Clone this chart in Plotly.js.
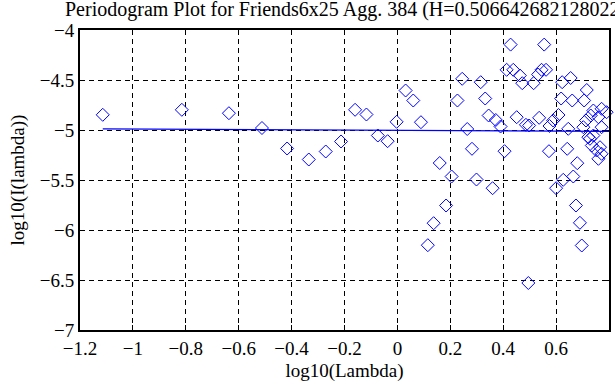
<!DOCTYPE html>
<html>
<head>
<meta charset="utf-8">
<script src="https://cdn.plot.ly/plotly-3.0.1.min.js"></script>
<style>html,body{margin:0;padding:0;background:#fff;}#chart{width:615px;height:385px;}</style>
</head>
<body>
<div id="chart"></div>
<script>
// log10(Lambda) values of periodogram points
const logLambda = [
  -1.114, -0.815, -0.637, -0.512, -0.417, -0.335, -0.271, -0.213, -0.160, -0.117,
  -0.074, -0.037, -0.003, 0.031, 0.060, 0.089, 0.115, 0.137, 0.160, 0.184,
  0.205, 0.227, 0.245, 0.264, 0.282, 0.299, 0.315, 0.332, 0.345, 0.360,
  0.372, 0.390, 0.405, 0.413, 0.428, 0.438, 0.451, 0.463, 0.472, 0.486,
  0.495, 0.498, 0.515, 0.532, 0.536, 0.545, 0.555, 0.562, 0.573, 0.575,
  0.589, 0.600, 0.609, 0.619, 0.623, 0.627, 0.642, 0.646, 0.655, 0.661,
  0.665, 0.675, 0.680, 0.690, 0.697, 0.703, 0.706, 0.713, 0.716, 0.722,
  0.728, 0.731, 0.735, 0.741, 0.741, 0.753, 0.760, 0.760, 0.766, 0.772,
  0.772, 0.772, 0.791
];
// log10(I(lambda)) values of periodogram points
const logI = [
  -4.848, -4.798, -4.832, -4.980, -5.185, -5.295, -5.215, -5.115, -4.798, -4.845,
  -5.055, -5.112, -4.918, -4.605, -4.705, -4.922, -6.152, -5.932, -5.330, -5.755,
  -5.465, -4.705, -4.488, -4.990, -5.188, -5.495, -4.522, -4.685, -4.855, -5.582,
  -4.900, -4.965, -5.212, -4.398, -4.146, -4.398, -4.872, -4.455, -4.532, -4.948,
  -6.530, -4.955, -4.532, -4.445, -4.878, -4.398, -4.146, -4.398, -5.212, -4.960,
  -4.905, -5.582, -4.850, -4.685, -4.522, -5.498, -5.188, -4.988, -4.480, -4.705,
  -5.465, -5.755, -5.332, -5.928, -6.155, -4.972, -4.705, -4.905, -4.600, -5.072,
  -5.088, -4.855, -5.155, -4.805, -5.055, -5.205, -4.872, -5.288, -5.172, -4.788,
  -4.972, -5.238, -4.822
];
// fitted regression line (endpoints)
const fitX = [-1.114, 0.800];
const fitY = [-4.989, -5.014];

const titleText = 'Periodogram Plot for Friends6x25 Agg. 384 (H=0.506642682128022)';
const xTitle = 'log10(Lambda)';
const yTitle = 'log10(I(lambda))';

const FONT = "'Liberation Serif'";

const traces = [
  {
    x: logLambda, y: logI, type: 'scatter', mode: 'markers',
    cliponaxis: false,
    marker: {symbol: 'diamond-open', size: 10, color: '#0000ff', line: {width: 1, color: '#0000ff'}},
    hoverinfo: 'skip'
  },
  {
    x: fitX, y: fitY, type: 'scatter', mode: 'lines',
    line: {color: '#0000ff', width: 1.2},
    hoverinfo: 'skip'
  }
];

const axisCommon = {
  showline: true, linecolor: '#000', linewidth: 2, mirror: 'ticks',
  ticks: 'inside', ticklen: 5, tickwidth: 1, tickcolor: '#000',
  showgrid: true, gridcolor: '#000', gridwidth: 1, griddash: '5px,4px',
  zeroline: false,
  tickfont: {family: FONT, size: 19, color: '#000'}
};

const layout = {
  width: 615, height: 385,
  margin: {l: 80, r: 6, t: 30, b: 55},
  paper_bgcolor: '#fff', plot_bgcolor: '#fff',
  showlegend: false,
  font: {family: FONT, size: 19, color: '#000'},
  title: {
    text: titleText, font: {family: FONT, size: 20, color: '#000'},
    xref: 'container', x: 65/615, xanchor: 'left',
    yref: 'container', y: 1 - 9/385, yanchor: 'middle'
  },
  xaxis: Object.assign({}, axisCommon, {
    range: [-1.2, 0.8], dtick: 0.2, tick0: -1.2, ticklabelstandoff: 0,
    title: {text: xTitle, font: {family: FONT, size: 19, color: '#000'}, standoff: 6}
  }),
  yaxis: Object.assign({}, axisCommon, {
    range: [-7, -4], dtick: 0.5, tick0: -7,
    title: {text: yTitle, font: {family: FONT, size: 19, color: '#000'}, standoff: 10}
  })
};

Plotly.newPlot('chart', traces, layout, {displayModeBar: false, staticPlot: true});
</script>
</body>
</html>
